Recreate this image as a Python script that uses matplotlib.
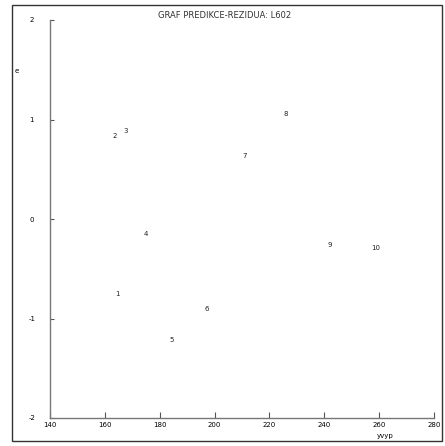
import matplotlib.pyplot as plt
from matplotlib.patches import Rectangle

plt.rcParams['axes.unicode_minus'] = False  # plain hyphen like the reference

# data: predicted value vs residual, labelled by point number
yvyp = [164.5, 163.7, 167.7, 175.0, 184.2, 197.0, 210.8, 226.0, 242.0, 258.8]
resid = [-0.75, 0.83, 0.88, -0.15, -1.22, -0.90, 0.63, 1.06, -0.26, -0.29]
point_ids = ['1', '2', '3', '4', '5', '6', '7', '8', '9', '10']

xticks = [140, 160, 180, 200, 220, 240, 260, 280]
yticks = [-2, -1, 0, 1, 2]

fig = plt.figure(figsize=(4.45, 4.46), dpi=100)

# outer frame
fig.patches.append(Rectangle((12 / 445, 1 - 441 / 446), 430 / 445, 436 / 446,
                             transform=fig.transFigure, fill=False,
                             edgecolor='#333333', linewidth=1.0))

ax = fig.add_axes([50 / 445, 1 - 418 / 446, 384 / 445, 398 / 446])
ax.set_xlim(140, 280)
ax.set_ylim(-2, 2)

for s in ['top', 'right']:
    ax.spines[s].set_visible(False)
for s in ['left', 'bottom']:
    ax.spines[s].set_color('#777777')
    ax.spines[s].set_linewidth(1.0)

ax.set_xticks(xticks)
ax.set_yticks(yticks)
ax.tick_params(axis='x', direction='in', length=4, width=0.8, color='#555555',
               labelsize=5, pad=3)
ax.tick_params(axis='y', direction='in', length=3, width=0.8, color='#555555',
               labelsize=5, pad=13)
for lbl in ax.get_yticklabels():
    lbl.set_horizontalalignment('center')

for x, y, t in zip(yvyp, resid, point_ids):
    ax.text(x, y, t, ha='center', va='center', fontsize=5, color='#222222')

fig.text(225 / 445, 1 - 15 / 446, 'GRAF PREDIKCE-REZIDUA: L602',
         ha='center', va='center', fontsize=6, color='#333333')
fig.text(17 / 445, 1 - 71 / 446, 'e', ha='center', va='center', fontsize=5)
fig.text(385 / 445, 1 - 436 / 446, 'yvyp', ha='center', va='center', fontsize=5)

fig.savefig('out.png', dpi=100)
